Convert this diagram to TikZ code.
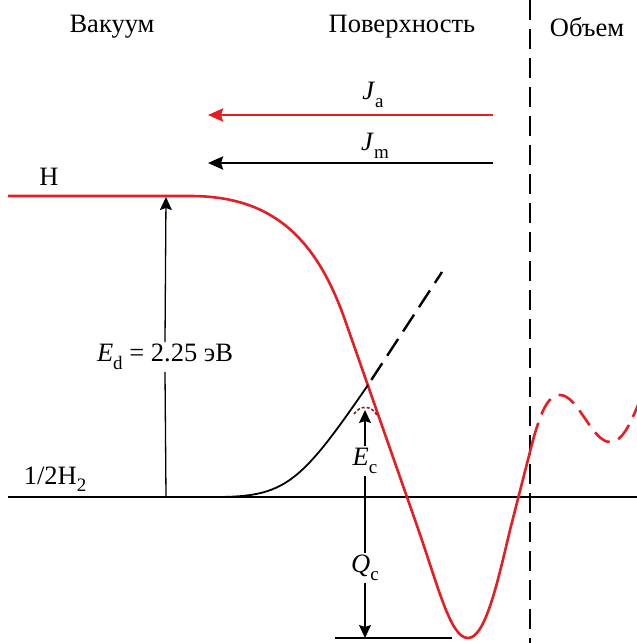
\documentclass[tikz,border=0pt]{standalone}
\usepackage{fontspec}
\setmainfont{Liberation Serif}
\usetikzlibrary{arrows.meta}
\definecolor{cred}{RGB}{228,30,36}
\definecolor{dred}{RGB}{140,30,30}
\newcommand\mysub[1]{\raisebox{-0.28em}{\fontsize{19}{19}\selectfont #1}}
\begin{document}
\begin{tikzpicture}[x=1pt,y=-1pt,
  ttl/.style={font=\fontsize{26.5}{30}\selectfont, inner sep=0pt},
  lbl/.style={font=\fontsize{26.5}{30}\selectfont, inner sep=2pt},
  redc/.style={draw=cred, line width=2.6pt},
  fluxtip/.style={-{Stealth[length=15pt,width=13pt,inset=2pt]}, line width=2.6pt},
  vtip/.style={-{Stealth[length=13pt,width=12pt,inset=2pt]}, line width=1.3pt},
  thin/.style={line width=1.3pt},
  dashline/.style={line width=2.6pt, dash pattern=on 20pt off 9pt}]
\useasboundingbox (0,0) rectangle (637,643);
% titles
\node[ttl] (vac) at (112,27) {Вакуум};
\node[ttl] (surf) at (402,27) {Поверхность};
\node[ttl] (bulk) at (587,27) {Объем};
% boundary
\coordinate (bt) at (530,0);
\coordinate (bb) at (530,643);
\draw[dashline] (bt) -- (bb);
% fluxes
\coordinate (ja1) at (493,115);
\coordinate (ja2) at (208,115);
\draw[fluxtip, cred] (ja1) -- (ja2);
\node[lbl] (jal) at (373,95) {\textit{J}\mysub{a}};
\coordinate (jm1) at (493,163);
\coordinate (jm2) at (208,163);
\draw[fluxtip] (jm1) -- (jm2);
\node[lbl] (jml) at (375,146) {\textit{J}\mysub{m}};
% baseline
\coordinate (b1) at (8,497);
\coordinate (b2) at (637,497);
\draw[line width=2.4pt] (b1) -- (b2);
\node[lbl] (h2) at (55,479) {1/2H\mysub{2}};
% H level and red curve
\node[lbl] (h) at (49,177) {H};
\coordinate (r0) at (8,196);
\coordinate (r1) at (190,196);
\coordinate (r2) at (345,320);
\coordinate (r3) at (415,520);
\coordinate (rmin) at (468,638);
\coordinate (r4) at (510,530);
\coordinate (r5) at (533,440);
\draw[redc] (r0) -- (r1) .. controls (270,196) and (315,235) .. (r2) -- (r3)
  .. controls (438,585) and (450,638) .. (rmin)
  .. controls (485,638) and (497,585) .. (r4) -- (r5);
\coordinate (r6) at (560,395);
\coordinate (r7) at (610,442);
\coordinate (r8) at (640,400);
\draw[draw=cred, line width=2.6pt, dash pattern=on 18pt off 9pt] (r5)
  .. controls (542,408) and (549,395) .. (r6)
  .. controls (578,395) and (592,442) .. (r7)
  .. controls (622,442) and (630,425) .. (r8);
% black molecular curve
\coordinate (k0) at (215,497);
\coordinate (k1) at (368,385);
\coordinate (k2) at (442,272);
\draw[line width=1.8pt] (k0) .. controls (285,497) and (300,484) .. (k1);
\draw[line width=2.4pt, dash pattern=on 20pt off 9pt, dash phase=-6pt] (k1) -- (k2);
% small activation arc
\coordinate (a1) at (354,414);
\coordinate (a2) at (377,415);
\draw[dred, line width=1.6pt, dash pattern=on 3pt off 2pt] (a1) .. controls (360,405) and (371,405) .. (a2);
% E_d
\coordinate (edb) at (166,497);
\coordinate (edt) at (166,197);
\node[lbl] (ed) at (165,357) {\textit{E}\mysub{d} = 2.25 эВ};
\draw[thin] (edb) -- (ed.south);
\draw[vtip] (ed.north) -- (edt);
% E_c and Q_c
\coordinate (ect) at (365,410);
\coordinate (qcb) at (365,638);
\node[lbl] (ec) at (365,461) {\textit{E}\mysub{c}};
\node[lbl] (qc) at (365,568) {\textit{Q}\mysub{c}};
\draw[vtip] (ec.north) -- (ect);
\draw[thin] (ec.south) -- (qc.north);
\draw[vtip] (qc.south) -- (qcb);
\coordinate (q1) at (335,638);
\coordinate (q2) at (452,638);
\draw[thin] (q1) -- (q2);
\end{tikzpicture}
\end{document}
